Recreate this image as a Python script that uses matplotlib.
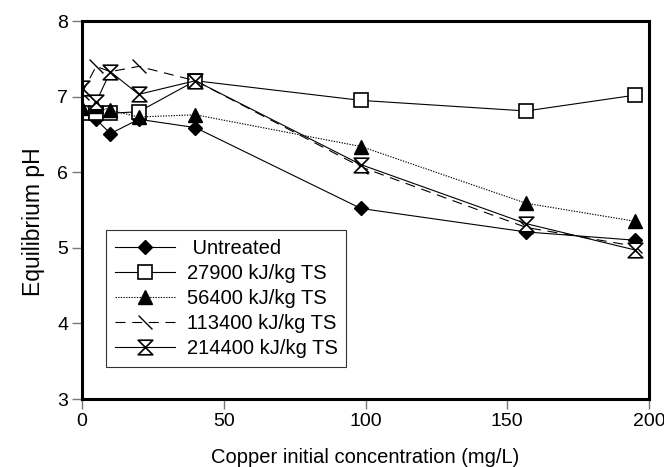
import matplotlib
matplotlib.use("Agg")
import matplotlib.pyplot as plt
from matplotlib.path import Path

plt.rcParams['font.family'] = ['Liberation Sans', 'DejaVu Sans']

# Copper initial concentration (mg/L)
conc = [0, 5, 10, 20, 40, 98.4, 156.6, 195.2]

# Equilibrium pH for each treatment
ph_untreated = [6.82, 6.70, 6.51, 6.70, 6.59, 5.52, 5.21, 5.10]
ph_27900 = [6.78, 6.78, 6.78, 6.80, 7.21, 6.95, 6.81, 7.02]
ph_56400 = [6.85, 6.88, 6.82, 6.73, 6.76, 6.34, 5.59, 5.35]
ph_113400 = [7.05, 7.40, 7.33, 7.40, 7.21, 6.07, 5.27, 5.02]
ph_214400 = [7.11, 6.93, 7.33, 7.03, 7.21, 6.10, 5.32, 4.97]

labels = [" Untreated", "27900 kJ/kg TS", "56400 kJ/kg TS",
          "113400 kJ/kg TS", "214400 kJ/kg TS"]

# custom markers: backslash stroke and hourglass
backslash = Path([(-1, 1), (1, -1)], [Path.MOVETO, Path.LINETO])
hourglass = Path([(-1, 1), (1, 1), (-1, -1), (1, -1), (-1, 1)],
                 [Path.MOVETO, Path.LINETO, Path.LINETO, Path.LINETO, Path.CLOSEPOLY])

fig = plt.figure(figsize=(6.64, 4.67), dpi=100)
ax = fig.add_axes([0.1235, 0.1456, 0.854, 0.8094])

lw = 0.8
ax.plot(conc, ph_untreated, color='black', lw=lw, marker='D', ms=6.8,
        mfc='black', mec='black', label=labels[0])
ax.plot(conc, ph_27900, color='black', lw=lw, marker='s', ms=9.5,
        mfc='white', mec='black', mew=1.2, label=labels[1])
ax.plot(conc, ph_56400, color='black', lw=lw, ls=(0, (1.2, 1.2)), marker='^', ms=10,
        mfc='black', mec='black', label=labels[2])
ax.plot(conc, ph_113400, color='black', lw=lw, ls=(0, (9, 6)), marker=backslash, ms=10,
        mfc='none', mec='black', mew=1.0, label=labels[3])
ax.plot(conc, ph_214400, color='black', lw=lw, marker=hourglass, ms=10.5,
        mfc='white', mec='black', mew=1.2, label=labels[4])

ax.set_xlim(0, 200)
ax.set_ylim(3, 8)
ax.set_xticks([0, 50, 100, 150, 200])
ax.set_yticks([3, 4, 5, 6, 7, 8])

for s in ax.spines.values():
    s.set_linewidth(2.2)

ax.tick_params(axis='both', direction='out', length=7, width=1, color='#777777',
               labelsize=14, pad=3)

ax.set_xlabel("Copper initial concentration (mg/L)", fontsize=14.5, labelpad=13)
ax.set_ylabel("Equilibrium pH", fontsize=16.5)
ax.yaxis.set_label_coords(-0.066, 0.47)

leg = ax.legend(loc='lower left', bbox_to_anchor=(0.0423, 0.0847), borderaxespad=0,
                fontsize=14.5, frameon=True, fancybox=False, framealpha=1,
                edgecolor='#333333', handlelength=3.0, handletextpad=0.55,
                labelspacing=0.30, borderpad=0.45)
leg.get_frame().set_linewidth(0.8)

fig.savefig("out.png", dpi=100)
